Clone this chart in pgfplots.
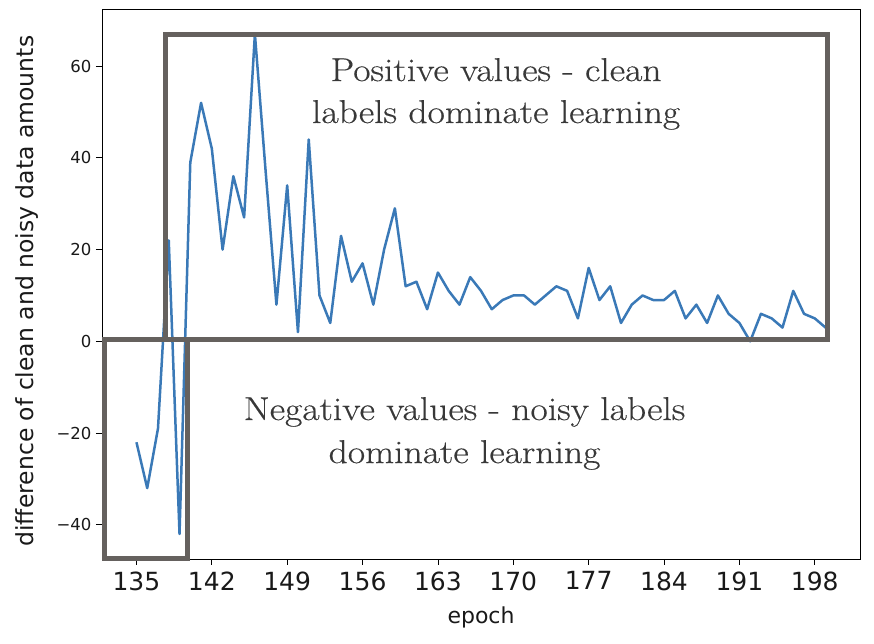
\documentclass[border=0pt]{standalone}
\usepackage{fontspec}
\setmainfont{Latin Modern Roman}
\newfontfamily\dejavu{DejaVu Sans}
\newfontfamily\annot[FakeStretch=1.14,FakeBold=0.4]{Latin Modern Roman}
\usepackage{pgfplots}
\pgfplotsset{compat=1.18}
\usepackage{pgfplotstable}
\definecolor{lineblue}{RGB}{58,121,183}
\definecolor{boxgray}{RGB}{101,97,94}
\definecolor{txtgray}{RGB}{56,56,56}
\pgfplotstableread{
epoch diff
135 -22
136 -32
137 -19
138 22
139 -42
140 39
141 52
142 42
143 20
144 36
145 27
146 67
147 37
148 8
149 34
150 2
151 44
152 10
153 4
154 23
155 13
156 17
157 8
158 20
159 29
160 12
161 13
162 7
163 15
164 11
165 8
166 14
167 11
168 7
169 9
170 10
171 10
172 8
173 10
174 12
175 11
176 5
177 16
178 9
179 12
180 4
181 8
182 10
183 9
184 9
185 11
186 5
187 8
188 4
189 10
190 6
191 4
192 0
193 6
194 5
195 3
196 11
197 6
198 5
199 3
}\datatable
\begin{document}
\begin{tikzpicture}
\begin{axis}[
  scale only axis,
  width=758pt, height=550pt,
  xmin=131.8, xmax=202.2,
  ymin=-47.45, ymax=72.45,
  clip=false,
  axis line style={black, line width=0.9pt},
  xtick={135,142,149,156,163,170,177,184,191,198},
  ytick={-40,-20,0,20,40,60},
  yticklabels={−40,−20,0,20,40,60},
  xtick pos=bottom, ytick pos=left,
  tick align=outside,
  major tick length=6pt,
  every tick/.style={black, line width=0.8pt},
  xticklabel style={font=\dejavu\fontsize{25}{25}\selectfont, text=black!90, yshift=-3pt},
  yticklabel style={font=\dejavu\fontsize{16.5}{16.5}\selectfont, text=black!90, xshift=-1pt},
  xlabel={epoch},
  ylabel={difference of clean and noisy data amounts},
  xlabel style={font=\dejavu\fontsize{22}{22}\selectfont, text=black!90, at={(axis description cs:0.5,-0.1055)}, anchor=center},
  ylabel style={font=\dejavu\fontsize{23.5}{23.5}\selectfont, text=black!90, at={(axis description cs:-0.0989,0.487)}, anchor=center},
  /pgf/number format/assume math mode=true,
]
\addplot[lineblue, line width=2.5pt, line join=round, no marks] table[x=epoch, y=diff] {\datatable};
\draw[boxgray, line width=5pt] (axis cs:137.73,0.4) rectangle (axis cs:199.16,66.96);
\draw[boxgray, line width=5pt] (axis cs:132.03,0.3) rectangle (axis cs:139.71,-47.24);
\node[txtgray, anchor=base, font=\annot\fontsize{33}{33}\selectfont] at (axis cs:168.4,56.75) {Positive values - clean};
\node[txtgray, anchor=base, font=\annot\fontsize{33}{33}\selectfont] at (axis cs:168.4,47.6) {labels dominate learning};
\node[txtgray, anchor=base, font=\annot\fontsize{33}{33}\selectfont] at (axis cs:165.47,-17.15) {Negative values - noisy labels};
\node[txtgray, anchor=base, font=\annot\fontsize{33}{33}\selectfont] at (axis cs:165.47,-26.53) {dominate learning};
\end{axis}
\pgfresetboundingbox
\path[use as bounding box] (-102pt,-85pt) rectangle (772pt,559pt);
\end{tikzpicture}
\end{document}
